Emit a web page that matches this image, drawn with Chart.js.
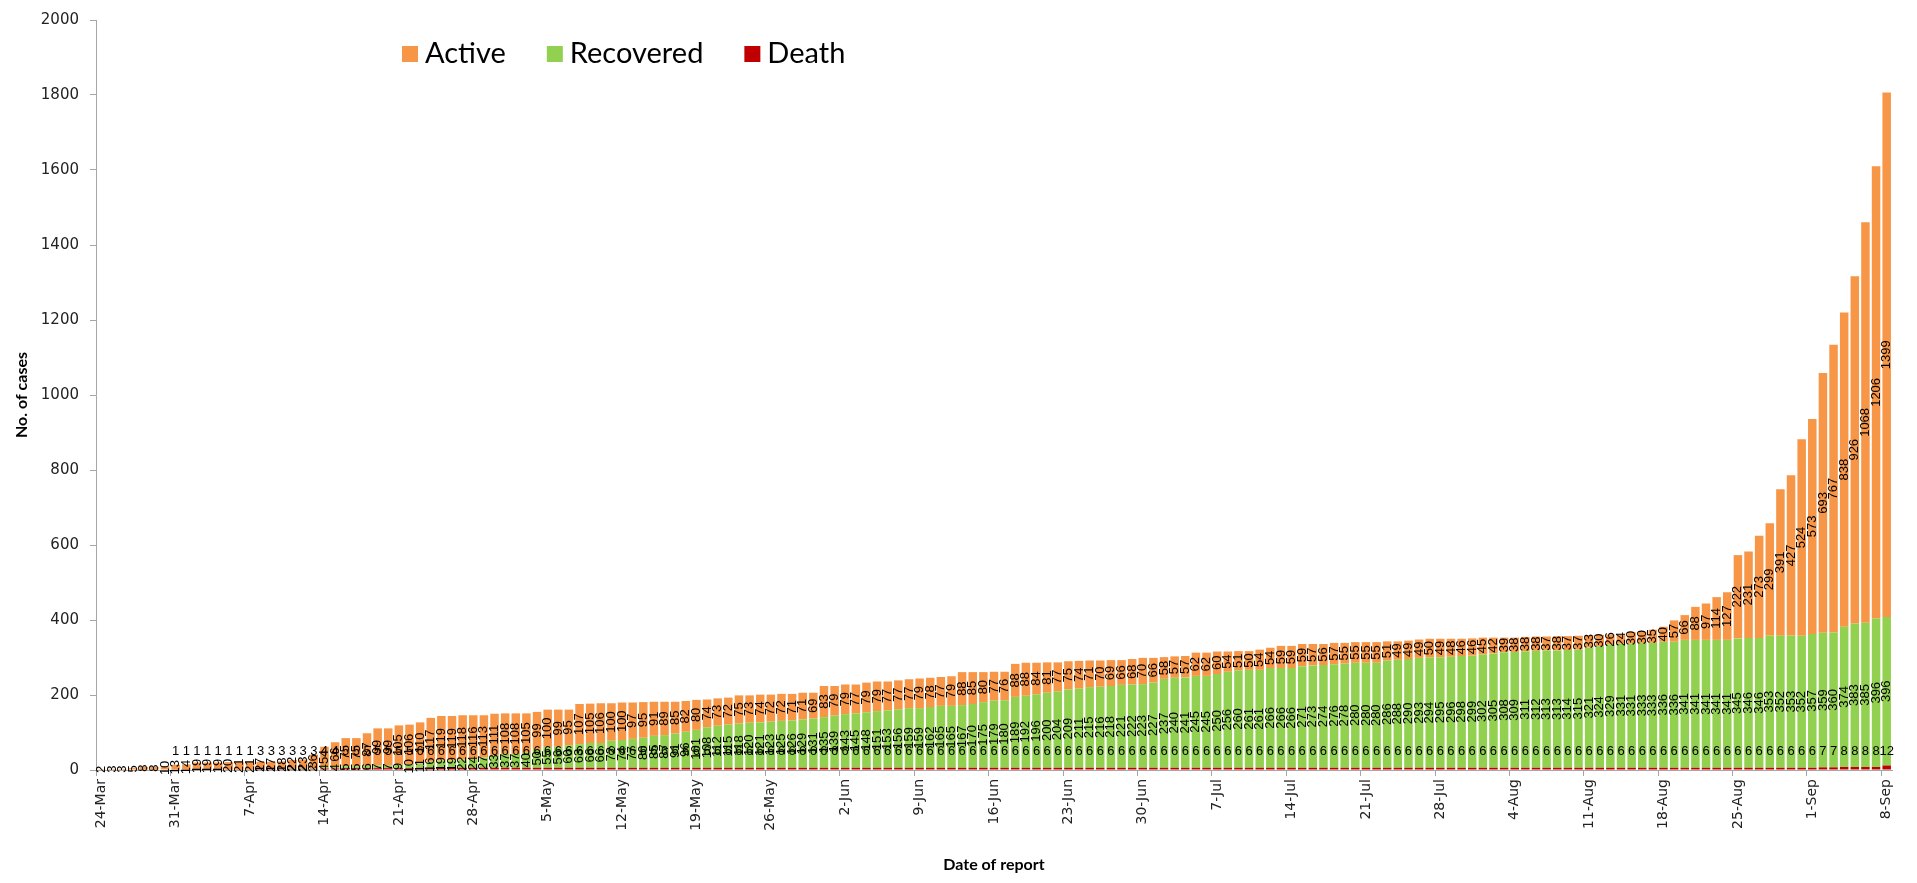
<!DOCTYPE html>
<html><head><meta charset="utf-8">
<script src="https://cdn.jsdelivr.net/npm/chart.js@4.4.1/dist/chart.umd.min.js"></script>
<style>html,body{margin:0;padding:0;background:#fff}#wrap{width:1917px;height:883px;position:relative}</style>
</head><body><div id="wrap"><canvas id="c"></canvas></div>
<script>
const categories = [
"24-Mar","25-Mar","26-Mar","27-Mar","28-Mar","29-Mar","30-Mar","31-Mar",
"1-Apr","2-Apr","3-Apr","4-Apr","5-Apr","6-Apr","7-Apr","8-Apr","9-Apr","10-Apr","11-Apr","12-Apr","13-Apr","14-Apr","15-Apr","16-Apr","17-Apr","18-Apr","19-Apr","20-Apr","21-Apr","22-Apr","23-Apr","24-Apr","25-Apr","26-Apr","27-Apr","28-Apr","29-Apr","30-Apr",
"1-May","2-May","3-May","4-May","5-May","6-May","7-May","8-May","9-May","10-May","11-May","12-May","13-May","14-May","15-May","16-May","17-May","18-May","19-May","20-May","21-May","22-May","23-May","24-May","25-May","26-May","27-May","28-May","29-May","30-May","31-May",
"1-Jun","2-Jun","3-Jun","4-Jun","5-Jun","6-Jun","7-Jun","8-Jun","9-Jun","10-Jun","11-Jun","12-Jun","13-Jun","14-Jun","15-Jun","16-Jun","17-Jun","18-Jun","19-Jun","20-Jun","21-Jun","22-Jun","23-Jun","24-Jun","25-Jun","26-Jun","27-Jun","28-Jun","29-Jun","30-Jun",
"1-Jul","2-Jul","3-Jul","4-Jul","5-Jul","6-Jul","7-Jul","8-Jul","9-Jul","10-Jul","11-Jul","12-Jul","13-Jul","14-Jul","15-Jul","16-Jul","17-Jul","18-Jul","19-Jul","20-Jul","21-Jul","22-Jul","23-Jul","24-Jul","25-Jul","26-Jul","27-Jul","28-Jul","29-Jul","30-Jul","31-Jul",
"1-Aug","2-Aug","3-Aug","4-Aug","5-Aug","6-Aug","7-Aug","8-Aug","9-Aug","10-Aug","11-Aug","12-Aug","13-Aug","14-Aug","15-Aug","16-Aug","17-Aug","18-Aug","19-Aug","20-Aug","21-Aug","22-Aug","23-Aug","24-Aug","25-Aug","26-Aug","27-Aug","28-Aug","29-Aug","30-Aug","31-Aug",
"1-Sep","2-Sep","3-Sep","4-Sep","5-Sep","6-Sep","7-Sep","8-Sep"];

const tickLabels = ["24-Mar","31-Mar","7-Apr","14-Apr","21-Apr","28-Apr","5-May","12-May","19-May","26-May","2-Jun","9-Jun","16-Jun","23-Jun","30-Jun","7-Jul","14-Jul","21-Jul","28-Jul","4-Aug","11-Aug","18-Aug","25-Aug","1-Sep","8-Sep"];

const yTicks = [0,200,400,600,800,1000,1200,1400,1600,1800,2000];

const death = [
0,0,0,0,0,0,0,1,
1,1,1,1,1,1,1,3,3,3,3,3,3,4,4,5,5,5,5,5,5,5,6,6,6,6,6,6,6,6,
6,6,6,6,6,6,6,6,6,6,6,6,6,6,6,6,6,6,6,6,6,6,6,6,6,6,6,6,6,6,6,
6,6,6,6,6,6,6,6,6,6,6,6,6,6,6,6,6,6,6,6,6,6,6,6,6,6,6,6,6,6,
6,6,6,6,6,6,6,6,6,6,6,6,6,6,6,6,6,6,6,6,6,6,6,6,6,6,6,6,6,6,6,
6,6,6,6,6,6,6,6,6,6,6,6,6,6,6,6,6,6,6,6,6,6,6,6,6,6,6,6,6,6,6,
6,7,7,8,8,8,8,12];

const recovered = [
0,0,0,0,0,0,0,0,
0,0,0,0,0,0,0,2,2,2,2,2,2,4,4,5,5,6,7,7,9,10,11,16,19,19,22,24,27,33,
37,37,40,50,55,56,60,63,66,66,72,74,77,80,85,87,91,96,101,108,112,115,118,120,121,123,125,126,129,131,135,
139,143,145,148,151,153,156,159,159,162,165,165,167,170,175,179,180,189,192,196,200,204,209,211,215,216,218,221,222,223,
227,237,240,241,245,245,250,256,260,261,261,266,266,266,271,273,274,276,278,280,280,280,286,288,290,293,294,295,296,298,299,
302,305,308,309,311,312,313,313,314,315,321,324,329,331,331,333,333,336,336,341,341,341,341,341,345,346,346,353,352,353,352,
357,359,360,374,383,385,396,396];

const active = [
2,3,3,5,8,8,10,13,
14,19,19,19,20,21,21,17,17,18,22,23,36,54,66,75,75,87,99,99,105,106,110,117,119,119,118,116,113,111,
108,108,105,99,100,99,95,107,105,106,100,100,97,95,91,89,85,82,80,74,73,72,75,73,74,72,72,71,71,69,83,
79,79,77,79,79,77,77,77,79,78,77,79,88,85,80,77,76,88,88,84,81,77,75,74,71,70,69,66,68,70,
66,58,57,57,62,62,60,54,51,50,54,54,59,59,59,57,56,57,55,55,55,55,51,49,49,49,50,49,48,46,46,
45,42,39,38,38,38,37,38,37,37,33,30,26,24,30,30,35,40,57,66,88,97,114,127,222,231,273,299,391,427,524,
573,693,767,838,926,1068,1206,1399];

const segLabels = {
  id: 'segLabels',
  afterDatasetsDraw(chart) {
    const ctx = chart.ctx;
    ctx.save();
    ctx.fillStyle = '#000';
    ctx.font = '13px "Liberation Sans", Arial, sans-serif';
    ctx.textAlign = 'center';
    ctx.textBaseline = 'middle';
    chart.data.datasets.forEach((ds, di) => {
      const meta = chart.getDatasetMeta(di);
      meta.data.forEach((el, i) => {
        const v = ds.data[i];
        if (!v) return;
        if (ds.rotateLabels) {
          const yc = (el.y + el.base) / 2;
          ctx.save();
          ctx.translate(el.x, yc);
          ctx.rotate(-Math.PI / 2);
          ctx.fillText(String(v), 0, 0);
          ctx.restore();
        } else {
          ctx.fillText(String(v), el.x, el.base - 18);
        }
      });
    });
    ctx.restore();
  }
};

const inLegend = {
  id: 'inLegend',
  afterDraw(chart) {
    const ctx = chart.ctx, area = chart.chartArea;
    ctx.save();
    ctx.font = '29px Lato, "Open Sans", sans-serif';
    ctx.textBaseline = 'middle';
    ctx.textAlign = 'left';
    let x = area.left + 306;
    const y = area.top + 34;
    [2, 1, 0].forEach(di => {
      const ds = chart.data.datasets[di];
      ctx.fillStyle = ds.backgroundColor;
      ctx.fillRect(x, y - 8, 16, 16);
      x += 23;
      ctx.fillStyle = '#000';
      ctx.fillText(ds.label, x, y);
      x += ctx.measureText(ds.label).width + 41;
    });
    ctx.restore();
  }
};

new Chart(document.getElementById('c'), {
  type: 'bar',
  data: {
    labels: categories,
    datasets: [
      { label: 'Death', data: death, backgroundColor: '#C00000', rotateLabels: false },
      { label: 'Recovered', data: recovered, backgroundColor: '#92D050', rotateLabels: true },
      { label: 'Active', data: active, backgroundColor: '#F79646', rotateLabels: true }
    ]
  },
  options: {
    responsive: true,
    maintainAspectRatio: false,
    animation: false,
    datasets: { bar: { barPercentage: 0.8, categoryPercentage: 1.0 } },
    layout: { padding: { top: 18, right: 25, left: 0, bottom: 0 } },
    plugins: { legend: { display: false }, tooltip: { enabled: false } },
    scales: {
      x: {
        stacked: true,
        grid: { drawOnChartArea: false, drawTicks: true, tickLength: 6,
                color: c => (c.index % 7 === 0 ? '#a6a6a6' : 'rgba(0,0,0,0)') },
        border: { display: true, color: '#a6a6a6', width: 1 },
        ticks: {
          autoSkip: false, maxRotation: 90, minRotation: 90, color: '#222',
          font: { family: 'DejaVu Sans', size: 14 },
          callback(v, i) { return tickLabels.includes(categories[i]) ? categories[i] : ''; }
        },
        title: { display: true, text: 'Date of report', color: '#000',
                 font: { family: 'Lato', weight: 'bold', size: 16 }, padding: { top: 0, bottom: 9 } },
        afterFit(s) { s.height = 113; }
      },
      y: {
        stacked: true, min: 0, max: 2000,
        afterBuildTicks(s) { s.ticks = yTicks.map(v => ({ value: v })); },
        grid: { drawOnChartArea: false, tickLength: 6, color: '#a6a6a6' },
        border: { display: true, color: '#a6a6a6', width: 1 },
        ticks: { color: '#222', font: { family: 'DejaVu Sans', size: 15 }, padding: 11,
                 callback: v => String(v) },
        title: { display: true, text: 'No. of cases', color: '#000',
                 font: { family: 'Lato', weight: 'bold', size: 16 }, padding: { top: 12, bottom: 0 } },
        afterFit(s) { s.width = 96; }
      }
    }
  },
  plugins: [segLabels, inLegend]
});
</script></body></html>
